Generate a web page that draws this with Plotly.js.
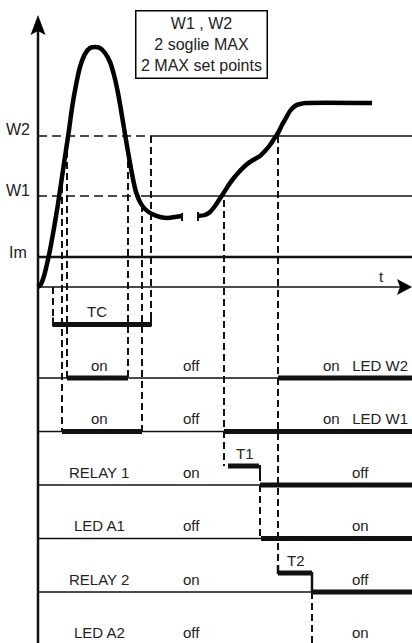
<!DOCTYPE html>
<html><head><meta charset="utf-8">
<script src="https://cdn.plot.ly/plotly-3.0.1.min.js"></script>
<style>html,body{margin:0;padding:0;background:#fff}#chart{width:412px;height:643px}</style>
</head><body><div id="chart"></div>
<script>
// ---- current curve: time t, current I (t-axis at I = 0) ----
const curveT_a = [0,3,6,9,12,16,20,24,28,31,34,38,42,47,52,57,62,67,72,76,80,83,86,89,92,95,98,102,107,114,122,130,137,144];
const curveI_a = [0,3,11,23,37,59,83,110,137,157,179,202,220,233,239,240,239,234,225,212,194,177,159,141,124,108,95,85,78,73,70,69,70,71];
const curveT_b = [160,167,172,177,181,185,190,195,201,208,215,222,227,232,236,240,244,248,252,257,262,268,334];
const curveI_b = [71,72,75,81,87,93,101,108,115,122,127,131,136,142,148,154,162,169,176,181,183,184,184];
const gapTickT = [144,160];
const gapTickLow = [66,66];
const gapTickHigh = [74,75];

// ---- thresholds ----
const thresholdNames = ['W2','W1','Im'];
const thresholdValues = [151,91,30];
const thresholdDashedUntil = [111,102,0];

// ---- timers ----
const timerNames = ['TC','T1','T2'];
const timerStart = [15,190,240];
const timerEnd = [113,221,274];
const timerLabelT = [59,207,258];

// ---- digital rows ----
const rowLabels = ['on','on','RELAY 1','LED A1','RELAY 2','LED A2'];
const rowMidStates = ['off','off','on','off','on','off'];
const rowEndStates = ['on\u00A0\u00A0\u00A0LED W2','on\u00A0\u00A0\u00A0LED W1','off','on','off','on'];
const rowOnStart = [[29,240],[24,186],[222],[223],[274],[]];
const rowOnEnd = [[90,334],[104,334],[334],[334],[334],[]];

// ---- dashed guide lines (time, from level, to level) ----
const guideT =    [15, 24, 29, 90, 104, 113, 186, 240, 222, 274];
const guideFrom = [0, 112, 147, 137, 82, 151, 87, 151, -187, -305];
const guideTo =   [-37.5, -144.5, -91, -91, -144.5, -37.5, -179, -278, -251.5, -356];

// ---- layout constants ----
const T_MIN = -38, T_MAX = 374, I_MIN = -356, I_MAX = 287;
const ROW0 = -91, ROW_STEP = -53.5, TEXT_LIFT = 13, TIMER_LIFT = 19;
const rowY = r => ROW0 + ROW_STEP * r;
const timerLevel = [ROW0 - ROW_STEP, rowY(2) + TIMER_LIFT, rowY(4) + TIMER_LIFT];
const FONT = '"Liberation Sans", Arial, sans-serif';
const INK = '#111';

const traces = [];
function seg(xs, ys, w, dash, color) {
  traces.push({type:'scatter', mode:'lines', x:xs, y:ys, hoverinfo:'skip', showlegend:false,
    line:{color:color||INK, width:w, dash:dash||'solid', shape:'linear'}});
}
function poly(xs, ys) {
  traces.push({type:'scatter', mode:'lines', x:xs, y:ys, fill:'toself', fillcolor:'#000',
    line:{width:0, color:'#000'}, hoverinfo:'skip', showlegend:false});
}

// axes
seg([0,0],[I_MAX-20, I_MIN], 2.5);
poly([0,-7.5,0,7.5,0],[272,252,256,252,272]);
seg([0,362],[0,0], 1.5);
poly([374,359,362,359,374],[0,8,0,-8,0]);

// thresholds
thresholdValues.forEach((v,i)=>{
  if (thresholdDashedUntil[i] > 0) {
    seg([0,thresholdDashedUntil[i]],[v,v],1.5,'9px,5px');
    seg([thresholdDashedUntil[i]+1, T_MAX],[v,v],1.4);
  } else {
    seg([0,T_MAX],[v,v],2.5);
  }
});

// guides
guideT.forEach((t,i)=> seg([t,t],[guideFrom[i],guideTo[i]],2,'7px,4px'));

// rows
rowLabels.forEach((lab,r)=>{
  const y = rowY(r);
  if (r < 5) seg([0,T_MAX],[y,y],1.5);
  rowOnStart[r].forEach((s,k)=>{
    const e = rowOnEnd[r][k] >= 334 ? T_MAX : rowOnEnd[r][k];
    seg([s,e],[y,y],5);
  });
});

// timers
timerNames.forEach((n,i)=>{
  seg([timerStart[i],timerEnd[i]],[timerLevel[i],timerLevel[i]],5);
});
seg([15,15],[timerLevel[0]-2,timerLevel[0]+7],2);
seg([113,113],[timerLevel[0]-2,timerLevel[0]+7],2);
seg([222,222],[timerLevel[1]+1,timerLevel[1]-8],2);
seg([240,240],[timerLevel[2]+8,timerLevel[2]-1],2.5);
seg([274,274],[timerLevel[2]+1,rowY(4)],2.5);

// curve
traces.push({type:'scatter',mode:'lines',x:curveT_a,y:curveI_a,hoverinfo:'skip',showlegend:false,
  line:{color:'#000',width:4.5,shape:'spline',smoothing:0.6}});
traces.push({type:'scatter',mode:'lines',x:curveT_b,y:curveI_b,hoverinfo:'skip',showlegend:false,
  line:{color:'#000',width:4.5,shape:'spline',smoothing:0.6}});
gapTickT.forEach((t,i)=> seg([t,t],[gapTickLow[i],gapTickHigh[i]],2));

// annotations
const ann = [];
function txt(x,y,s,size,anchor){
  ann.push({x:x,y:y,text:s,showarrow:false,xanchor:anchor||'center',yanchor:'middle',
    font:{family:FONT,size:size||15,color:'#222'}});
}
const labelY = [158, 97, 35];
thresholdNames.forEach((n,i)=> txt(-20, labelY[i], n, 16));
txt(343, 11, 't', 15);
timerNames.forEach((n,i)=> txt(timerLabelT[i], timerLevel[i]+13, n, 15));
rowLabels.forEach((lab,r)=>{
  const y = rowY(r) + TEXT_LIFT;
  txt(61, y, lab, 15);
  txt(153, y, rowMidStates[r], 15);
  if (r < 2) txt(372, y, rowEndStates[r], 15, 'right');
  else txt(322, y, rowEndStates[r], 15);
});
ann.push({x:163.5, y:242.5, text:'W1 , W2<br>2 soglie MAX<br>2 MAX set points', showarrow:false,
  xanchor:'center', yanchor:'middle', width:130, height:66, borderpad:0, borderwidth:1.5,
  bordercolor:'#000', bgcolor:'#fff', font:{family:FONT,size:16,color:'#222'}});

const layout = {
  width:412, height:643, margin:{l:0,r:0,t:0,b:0}, paper_bgcolor:'#fff', plot_bgcolor:'#fff',
  showlegend:false,
  xaxis:{range:[T_MIN,T_MAX], visible:false, fixedrange:true},
  yaxis:{range:[I_MIN,I_MAX], visible:false, fixedrange:true},
  annotations: ann
};
Plotly.newPlot('chart', traces, layout, {staticPlot:true, displayModeBar:false});
</script></body></html>
